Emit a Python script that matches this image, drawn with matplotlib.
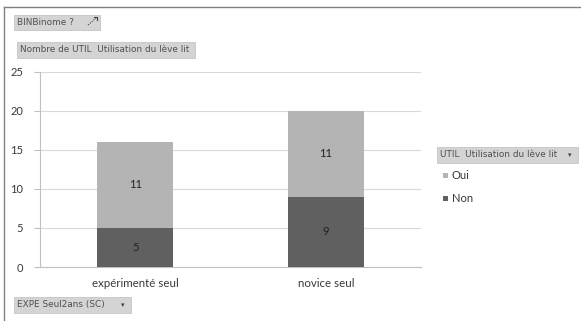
import numpy as np
import matplotlib.pyplot as plt
from matplotlib.patches import Rectangle

categories = ['expérimenté seul', 'novice seul']
non_values = [5, 9]
oui_values = [11, 11]
yticks = [0, 5, 10, 15, 20, 25]

dark = '#606060'
light = '#b4b4b4'
text_col = '#383838'
btn_col = '#d4d4d4'

plt.rcParams['font.family'] = ['Lato', 'DejaVu Sans']

fig = plt.figure(figsize=(5.81, 3.21), dpi=100)
ax = fig.add_axes([40 / 581, 1 - 267 / 321, 381 / 581, 195.3 / 321])

x = np.arange(len(categories))
ax.bar(x, non_values, width=0.4, color=dark, zorder=3)
ax.bar(x, oui_values, width=0.4, bottom=non_values, color=light, zorder=3)

for i in range(len(categories)):
    ax.text(x[i], non_values[i] / 2, str(non_values[i]), ha='center', va='center',
            fontsize=8, color='#202020', zorder=4)
    ax.text(x[i], non_values[i] + oui_values[i] / 2, str(oui_values[i]), ha='center',
            va='center', fontsize=8, color='#202020', zorder=4)

ax.set_xlim(-0.5, 1.5)
ax.set_ylim(0, 25)
ax.set_yticks(yticks)
ax.set_xticks(x)
ax.set_xticklabels(categories, fontsize=8.3, color=text_col)
ax.tick_params(axis='y', labelsize=8, labelcolor=text_col, length=4, color='#c0c0c0', pad=8)
ax.tick_params(axis='x', length=0, pad=8)
ax.yaxis.grid(True, color='#d9d9d9', linewidth=0.8, zorder=0)
for s in ['top', 'right']:
    ax.spines[s].set_visible(False)
ax.spines['left'].set_color('#c0c0c0')
ax.spines['bottom'].set_color('#c0c0c0')


def button(x0, y0, w, h, label, arrow=False):
    # pixel coords from top-left
    fx, fy = x0 / 581, 1 - (y0 + h) / 321
    fig.patches.append(Rectangle((fx, fy), w / 581, h / 321, transform=fig.transFigure,
                                 facecolor=btn_col, edgecolor='#c4c4c4', linewidth=0.6))
    fig.text(fx + 3 / 581, fy + h / 2 / 321, label, fontsize=6.4, color='#505050',
             va='center', ha='left', family=['Liberation Sans Narrow', 'DejaVu Sans'])
    if arrow:
        fig.text((x0 + w - 8) / 581, fy + h / 2 / 321, '▾', fontsize=5, color='#404040',
                 va='center', ha='center', family=['DejaVu Sans'])


button(14, 15, 86, 15, 'BINBinome ?')
# small pivot icon next to the field button
fig.add_artist(plt.Line2D([88 / 581, 96 / 581], [1 - 25 / 321, 1 - 18 / 321],
                          transform=fig.transFigure, color='#404040', linewidth=0.8,
                          linestyle=(0, (1, 1.2))))
fig.add_artist(plt.Line2D([94 / 581, 97 / 581, 97 / 581], [1 - 17 / 321, 1 - 17 / 321, 1 - 20 / 321],
                          transform=fig.transFigure, color='#404040', linewidth=0.8))
button(17, 42, 178, 16, 'Nombre de UTIL  Utilisation du lève lit')
button(437, 147, 141, 16, 'UTIL  Utilisation du lève lit', arrow=True)
button(14, 297, 117, 16, 'EXPE Seul2ans (SC)', arrow=True)

fig.patches.append(Rectangle((443 / 581, 1 - 178 / 321), 5 / 581, 5 / 321, transform=fig.transFigure,
                             facecolor=light, edgecolor='none'))
fig.text(452 / 581, 1 - 175.5 / 321, 'Oui', fontsize=8, color=text_col, va='center')
fig.patches.append(Rectangle((443 / 581, 1 - 201 / 321), 5 / 581, 5 / 321, transform=fig.transFigure,
                             facecolor=dark, edgecolor='none'))
fig.text(452 / 581, 1 - 198.5 / 321, 'Non', fontsize=8, color=text_col, va='center')

# outer frame (top and left)
fig.add_artist(plt.Line2D([4 / 581, 1], [1 - 7 / 321, 1 - 7 / 321], transform=fig.transFigure,
                          color='#808080', linewidth=1))
fig.add_artist(plt.Line2D([4 / 581, 4 / 581], [0, 1 - 7 / 321], transform=fig.transFigure,
                          color='#808080', linewidth=1))

fig.savefig('out.png', dpi=100)
